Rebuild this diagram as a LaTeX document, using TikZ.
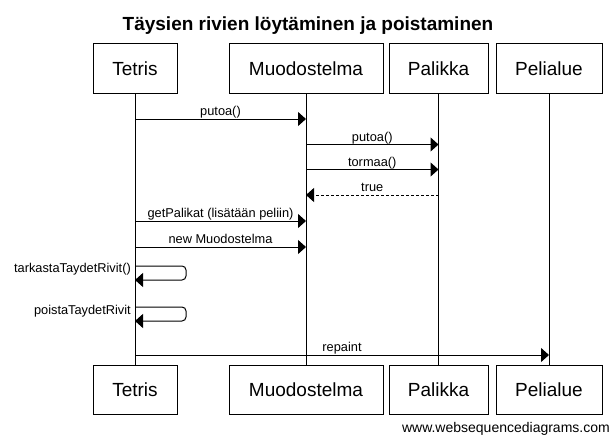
\documentclass[tikz,border=0pt]{standalone}
\usepackage{fontspec}
\setmainfont{Liberation Sans}
\usetikzlibrary{arrows.meta}

\begin{document}
\begin{tikzpicture}[x=1pt,y=-1pt,
    actor/.style={draw, line width=1pt, minimum height=49pt, inner sep=0pt, font=\fontsize{19}{21}\selectfont},
    msg/.style={line width=1pt, -{Triangle[length=8pt,width=14pt]}},
    reply/.style={msg, dash pattern=on 3pt off 2pt},
    msglabel/.style={font=\fontsize{12.8}{14}\selectfont, inner sep=0pt, anchor=base, yshift=3.5pt},
    selflabel/.style={font=\fontsize{12.8}{14}\selectfont, inner sep=0pt, anchor=base east}]
        \useasboundingbox (0,0) rectangle (613,436);
        \node[font=\fontsize{19}{22}\selectfont\bfseries, anchor=base] (title) at (308,31) {Täysien rivien löytäminen ja poistaminen};
        % osallistujat ylhaalla ja alhaalla
        \foreach \n/\x/\w/\t in {tetris/135/84/Tetris, muod/306/154/Muodostelma, palikka/438.5/99/Palikka, pelialue/549/106/Pelialue} {
            \node[actor, minimum width=\w pt] (\n) at (\x,68.5) {\t};
            \node[actor, minimum width=\w pt] (\n-b) at (\x,389.5) {\t};
            \draw[line width=1pt] (\n) -- (\n-b);
        }
        % viestien rivit
        \coordinate (r1) at (0,119);
        \coordinate (r2) at (0,144.5);
        \coordinate (r3) at (0,169.5);
        \coordinate (r4) at (0,195);
        \coordinate (r5) at (0,221);
        \coordinate (r6) at (0,247);
        \coordinate (r7) at (0,266);
        \coordinate (r7b) at (0,280);
        \coordinate (r8) at (0,307);
        \coordinate (r8b) at (0,321);
        \coordinate (r9) at (0,355);
        \draw[msg] (tetris |- r1) -- node[msglabel] {putoa()} (muod |- r1);
        \draw[msg] (muod |- r2) -- node[msglabel] {putoa()} (palikka |- r2);
        \draw[msg] (muod |- r3) -- node[msglabel] {tormaa()} (palikka |- r3);
        \draw[reply] (palikka |- r4) -- node[msglabel] {true} (muod |- r4);
        \draw[msg] (tetris |- r5) -- node[msglabel] {getPalikat (lisätään peliin)} (muod |- r5);
        \draw[msg] (tetris |- r6) -- node[msglabel] {new Muodostelma} (muod |- r6);
        \draw[msg, rounded corners=4pt] (tetris |- r7) -- ++(51,0) -- ++(0,14) -- (tetris |- r7b);
        \node[selflabel] (tarkasta) at ([xshift=-4pt,yshift=-6pt]tetris |- r7) {tarkastaTaydetRivit()};
        \draw[msg, rounded corners=4pt] (tetris |- r8) -- ++(51,0) -- ++(0,14) -- (tetris |- r8b);
        \node[selflabel] (poista) at ([xshift=-4pt,yshift=-7pt]tetris |- r8) {poistaTaydetRivit};
        \draw[msg] (tetris |- r9) -- node[msglabel] {repaint} (pelialue |- r9);
        \node[font=\fontsize{14}{16}\selectfont, inner sep=0pt, anchor=base east] (wsd) at (610,432) {www.websequencediagrams.com};
    \end{tikzpicture}
\end{document}
